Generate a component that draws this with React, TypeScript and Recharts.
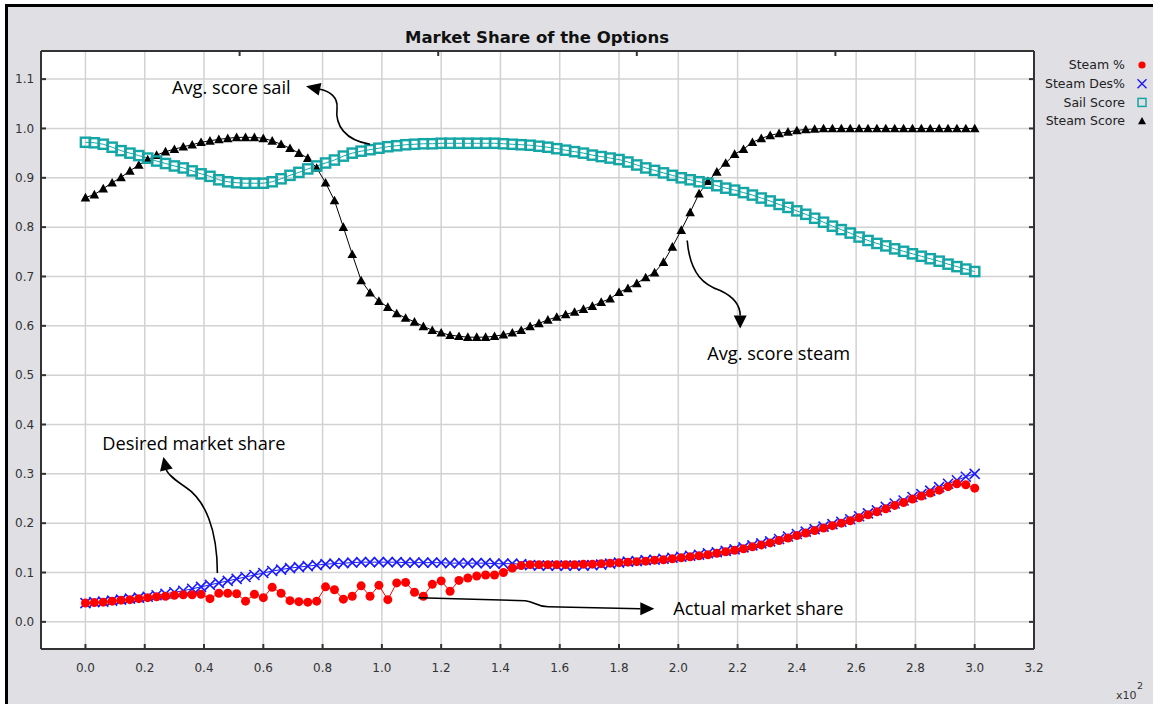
import React from "react";
import { ComposedChart, Line, XAxis, YAxis, CartesianGrid, ReferenceDot } from "recharts";

// time steps (x10^2 on the axis)
const X_VALUES = [
  0, 3, 6, 9, 12, 15, 18, 21, 24, 27, 30, 33, 36, 39, 42, 45, 48, 51, 54, 57,
  60, 63, 66, 69, 72, 75, 78, 81, 84, 87, 90, 93, 96, 99, 102, 105, 108, 111, 114, 117,
  120, 123, 126, 129, 132, 135, 138, 141, 144, 147, 150, 153, 156, 159, 162, 165, 168, 171, 174, 177,
  180, 183, 186, 189, 192, 195, 198, 201, 204, 207, 210, 213, 216, 219, 222, 225, 228, 231, 234, 237,
  240, 243, 246, 249, 252, 255, 258, 261, 264, 267, 270, 273, 276, 279, 282, 285, 288, 291, 294, 297,
  300,
];

const STEAM_PCT = [
  0.038, 0.039, 0.04, 0.042, 0.044, 0.045, 0.047, 0.049, 0.051, 0.052,
  0.054, 0.055, 0.055, 0.056, 0.047, 0.058, 0.058, 0.057, 0.042, 0.056,
  0.049, 0.07, 0.058, 0.043, 0.041, 0.04, 0.042, 0.071, 0.065, 0.046,
  0.052, 0.073, 0.052, 0.074, 0.045, 0.079, 0.08, 0.06, 0.052, 0.076,
  0.083, 0.062, 0.084, 0.089, 0.093, 0.095, 0.095, 0.1, 0.109, 0.114,
  0.116, 0.116, 0.116, 0.116, 0.116, 0.116, 0.117, 0.117, 0.118, 0.119,
  0.12, 0.121, 0.122, 0.123, 0.125, 0.126, 0.128, 0.13, 0.132, 0.134,
  0.136, 0.139, 0.142, 0.145, 0.148, 0.152, 0.156, 0.16, 0.165, 0.17,
  0.175, 0.18, 0.185, 0.19, 0.195, 0.2, 0.205, 0.211, 0.217, 0.223,
  0.229, 0.236, 0.242, 0.249, 0.255, 0.261, 0.267, 0.274, 0.28, 0.278,
  0.271,
];

const STEAM_DES = [
  0.038, 0.04, 0.041, 0.043, 0.045, 0.047, 0.049, 0.051, 0.054, 0.057,
  0.06, 0.063, 0.067, 0.071, 0.075, 0.079, 0.083, 0.087, 0.091, 0.095,
  0.099, 0.103, 0.106, 0.109, 0.111, 0.113, 0.115, 0.117, 0.118, 0.119,
  0.12, 0.121, 0.121, 0.121, 0.121, 0.121, 0.12, 0.12, 0.12, 0.12,
  0.12, 0.119, 0.119, 0.119, 0.119, 0.119, 0.118, 0.118, 0.118, 0.117,
  0.115, 0.114, 0.114, 0.114, 0.114, 0.114, 0.114, 0.115, 0.116, 0.118,
  0.12, 0.122, 0.123, 0.125, 0.126, 0.128, 0.13, 0.132, 0.134, 0.136,
  0.139, 0.141, 0.144, 0.147, 0.151, 0.155, 0.159, 0.163, 0.168, 0.173,
  0.178, 0.183, 0.188, 0.193, 0.198, 0.203, 0.208, 0.214, 0.22, 0.226,
  0.233, 0.24, 0.246, 0.253, 0.259, 0.266, 0.273, 0.28, 0.287, 0.294,
  0.3,
];

const SAIL_SCORE = [
  0.972, 0.971, 0.968, 0.962, 0.955, 0.95, 0.945, 0.94, 0.934, 0.929,
  0.924, 0.92, 0.914, 0.908, 0.903, 0.896, 0.892, 0.89, 0.889, 0.889,
  0.889, 0.892, 0.898, 0.905, 0.911, 0.918, 0.924, 0.93, 0.936, 0.944,
  0.95, 0.954, 0.957, 0.96, 0.963, 0.965, 0.967, 0.968, 0.969, 0.969,
  0.97, 0.97, 0.97, 0.97, 0.97, 0.97, 0.97, 0.969, 0.968, 0.967,
  0.966, 0.964, 0.962, 0.959, 0.956, 0.953, 0.95, 0.946, 0.943, 0.94,
  0.937, 0.932, 0.926, 0.92, 0.915, 0.91, 0.905, 0.9, 0.896, 0.892,
  0.889, 0.884, 0.879, 0.875, 0.87, 0.865, 0.859, 0.853, 0.846, 0.84,
  0.833, 0.826, 0.818, 0.81, 0.802, 0.795, 0.788, 0.78, 0.773, 0.767,
  0.762, 0.756, 0.751, 0.746, 0.741, 0.736, 0.731, 0.725, 0.72, 0.715,
  0.71,
];

const STEAM_SCORE = [
  0.86, 0.866, 0.878, 0.89, 0.901, 0.914, 0.926, 0.937, 0.946, 0.953,
  0.958, 0.963, 0.967, 0.972, 0.975, 0.978, 0.98, 0.982, 0.982, 0.982,
  0.98, 0.975, 0.968, 0.96, 0.95, 0.94, 0.92, 0.89, 0.854, 0.8,
  0.745, 0.692, 0.667, 0.65, 0.638, 0.625, 0.616, 0.608, 0.599, 0.591,
  0.586, 0.581, 0.579, 0.577, 0.577, 0.577, 0.579, 0.582, 0.586, 0.591,
  0.599, 0.605, 0.612, 0.618, 0.623, 0.628, 0.634, 0.64, 0.648, 0.655,
  0.668, 0.676, 0.686, 0.698, 0.708, 0.729, 0.76, 0.794, 0.83, 0.868,
  0.893, 0.912, 0.93, 0.948, 0.958, 0.972, 0.98, 0.986, 0.99, 0.993,
  0.996, 0.998, 0.999, 1, 1, 1, 1, 1, 1, 1,
  1, 1, 1, 1, 1, 1, 1, 1, 1, 1,
  1,
];

const X_TICKS = [0, 20, 40, 60, 80, 100, 120, 140, 160, 180, 200, 220, 240, 260, 280, 300, 320];
const Y_TICKS = [0, 0.1, 0.2, 0.3, 0.4, 0.5, 0.6, 0.7, 0.8, 0.9, 1.0, 1.1];

const SERIES = [
  { key: "steamScore", name: "Steam Score", color: "#000000", marker: "triangle" },
  { key: "sailScore", name: "Sail Score", color: "#14a6a6", marker: "square" },
  { key: "steamDes", name: "Steam Des%", color: "#1a1aff", marker: "x" },
  { key: "steamPct", name: "Steam %", color: "#ff0000", marker: "circle" },
];
const LEGEND_ORDER = ["steamPct", "steamDes", "sailScore", "steamScore"];

// annotation anchors (tail of each arrow) in data coordinates
const NOTES = [
  { id: "sail", x: 96, y: 0.968, text: "Avg. score sail" },
  { id: "steam", x: 203, y: 0.773, text: "Avg. score steam" },
  { id: "desired", x: 44.5, y: 0.099, text: "Desired market share" },
  { id: "actual", x: 112.3, y: 0.049, text: "Actual market share" },
];

const data = X_VALUES.map((x, i) => ({
  x,
  steamPct: STEAM_PCT[i],
  steamDes: STEAM_DES[i],
  sailScore: SAIL_SCORE[i],
  steamScore: STEAM_SCORE[i],
}));

const X_MIN = -15;
const X_MAX = 320;
const Y_MIN = -0.055;
const Y_MAX = 1.157;

const AXIS = "#333333";
const TICK_FONT = "'DejaVu Sans', Verdana, sans-serif";

function Marker({ kind, color, cx, cy, legend }: any) {
  if (kind === "circle") {
    return <circle cx={cx} cy={cy} r={legend ? 3.6 : 4.5} fill={color} />;
  }
  if (kind === "x") {
    const s = legend ? 4.5 : 5;
    return (
      <path
        d={`M${cx - s},${cy - s}L${cx + s},${cy + s}M${cx - s},${cy + s}L${cx + s},${cy - s}`}
        stroke={color}
        strokeWidth={legend ? 1.4 : 1.6}
        fill="none"
      />
    );
  }
  if (kind === "square") {
    const s = legend ? 4 : 4.6;
    return (
      <rect x={cx - s} y={cy - s} width={s * 2} height={s * 2} fill="none" stroke={color} strokeWidth={legend ? 1.5 : 2.4} />
    );
  }
  const s = legend ? 4 : 4.8;
  return <path d={`M${cx},${cy - s}L${cx + s},${cy + s * 0.8}L${cx - s},${cy + s * 0.8}Z`} fill={color} />;
}

const dotFor = (kind: string, color: string) => (props: any) => {
  const { cx, cy, index } = props;
  if (cx == null || cy == null) return <g key={`d${index}`} />;
  return <Marker key={`d${index}`} kind={kind} color={color} cx={cx} cy={cy} />;
};

function BottomTick({ x, y, payload }: any) {
  return (
    <g>
      <line x1={x} y1={y} x2={x} y2={y - 5} stroke={AXIS} strokeWidth={2} />
      <text x={x} y={y + 23} textAnchor="middle" fontFamily={TICK_FONT} fontSize={12} fill="#333">
        {(payload.value / 100).toFixed(1)}
      </text>
    </g>
  );
}

function LeftTick({ x, y, payload }: any) {
  return (
    <g>
      <line x1={x} y1={y} x2={x + 5} y2={y} stroke={AXIS} strokeWidth={2} />
      <text x={x - 26} y={y} dy="0.35em" textAnchor="start" fontFamily={TICK_FONT} fontSize={12} fill="#333">
        {payload.value.toFixed(1)}
      </text>
    </g>
  );
}

function TopTick({ x, y }: any) {
  return <line x1={x} y1={y} x2={x} y2={y + 5} stroke={AXIS} strokeWidth={2} />;
}

function RightTick({ x, y }: any) {
  return <line x1={x} y1={y} x2={x - 5} y2={y} stroke={AXIS} strokeWidth={2} />;
}

// arrow shape for each note, relative to the anchor
const NOTE_GEOM: Record<string, { path: string; end: [number, number]; tip: [number, number]; label: [number, number] }> = {
  sail: { path: "M0,0 C-25,-4 -35,-19 -33,-36 C-32,-47 -40,-53 -50,-55", end: [-50, -55], tip: [-64, -58], label: [-198, -50] },
  steam: { path: "M0,0 C3,35 18,45 33,50 C48,57 53,65 53,75", end: [53, 75], tip: [53, 88], label: [20, 120] },
  desired: { path: "M0,0 C0,-43 -12,-73 -32,-86 C-42,-93 -49,-98 -51,-103", end: [-51, -103], tip: [-54, -116], label: [-115, -123] },
  actual: { path: "M0,0 L107,3 C117,4 117,9 130,9 L222,11", end: [222, 11], tip: [236, 11], label: [255, 17] },
};

function Note({ cx, cy, note }: any) {
  if (cx == null || cy == null) return null;
  const g = NOTE_GEOM[note.id];
  const [ex, ey] = g.end;
  const [tx, ty] = g.tip;
  const len = Math.hypot(tx - ex, ty - ey) || 1;
  const ux = (tx - ex) / len;
  const uy = (ty - ey) / len;
  const w = 6.5;
  const p1 = [ex - uy * w, ey + ux * w];
  const p2 = [ex + uy * w, ey - ux * w];
  return (
    <g transform={`translate(${cx},${cy})`}>
      <path d={g.path} fill="none" stroke="#000" strokeWidth={1.6} />
      <path d={`M${tx},${ty}L${p1[0]},${p1[1]}L${p2[0]},${p2[1]}Z`} fill="#000" />
      <text x={g.label[0]} y={g.label[1]} fontFamily="'Open Sans', Lato, sans-serif" fontSize={18.2} fill="#000">
        {note.text}
      </text>
    </g>
  );
}

export default function App() {
  const legendItems = LEGEND_ORDER.map((k) => SERIES.find((s) => s.key === k)!);
  return (
    <div style={{ position: "absolute", left: 0, top: 0, width: 1153, height: 704, background: "#ffffff", overflow: "hidden" }}>
      <div
        style={{
          position: "absolute",
          left: 5,
          top: 4,
          width: 1148,
          height: 700,
          boxSizing: "border-box",
          background: "#dfdfe4",
          borderLeft: "3px solid #000",
          borderTop: "3px solid #000",
        }}
      />
      <div style={{ position: "absolute", left: 0, top: 0 }}>
        <ComposedChart width={1153} height={704} data={data} margin={{ top: 50, right: 118, bottom: 54, left: 40 }}>
          <CartesianGrid stroke="#d2d2d2" strokeWidth={1.5} fill="#ffffff" />
          <XAxis
            dataKey="x"
            type="number"
            domain={[X_MIN, X_MAX]}
            ticks={X_TICKS}
            allowDataOverflow
            interval={0}
            height={1}
            tickSize={0}
            tickMargin={0}
            tickLine={false}
            axisLine={{ stroke: AXIS, strokeWidth: 2 }}
            tick={(p: any) => <BottomTick {...p} />}
          />
          <XAxis
            xAxisId="top"
            orientation="top"
            type="number"
            domain={[X_MIN, X_MAX]}
            ticks={X_TICKS}
            allowDataOverflow
            interval={0}
            height={1}
            tickSize={0}
            tickMargin={0}
            tickLine={false}
            axisLine={{ stroke: AXIS, strokeWidth: 2 }}
            tick={(p: any) => <TopTick {...p} />}
          />
          <YAxis
            type="number"
            domain={[Y_MIN, Y_MAX]}
            ticks={Y_TICKS}
            allowDataOverflow
            interval={0}
            width={1}
            tickSize={0}
            tickMargin={0}
            tickLine={false}
            axisLine={{ stroke: AXIS, strokeWidth: 2 }}
            tick={(p: any) => <LeftTick {...p} />}
          />
          <YAxis
            yAxisId="right"
            orientation="right"
            type="number"
            domain={[Y_MIN, Y_MAX]}
            ticks={Y_TICKS}
            allowDataOverflow
            interval={0}
            width={1}
            tickSize={0}
            tickMargin={0}
            tickLine={false}
            axisLine={{ stroke: AXIS, strokeWidth: 2 }}
            tick={(p: any) => <RightTick {...p} />}
          />
          {SERIES.map((s) => (
            <Line
              key={s.key}
              dataKey={s.key}
              name={s.name}
              type="linear"
              stroke={s.color}
              strokeWidth={1}
              dot={dotFor(s.marker, s.color)}
              activeDot={false}
              isAnimationActive={false}
            />
          ))}
          {NOTES.map((n) => (
            <ReferenceDot
              key={n.id}
              x={n.x}
              y={n.y}
              r={0}
              ifOverflow="visible"
              shape={(p: any) => <Note {...p} note={n} />}
            />
          ))}
        </ComposedChart>
      </div>
      <svg width={1153} height={704} style={{ position: "absolute", left: 0, top: 0, pointerEvents: "none" }}>
        <text x={537} y={43} textAnchor="middle" fontFamily={TICK_FONT} fontWeight="bold" fontSize={16.5} fill="#111">
          Market Share of the Options
        </text>
        {legendItems.map((s, i) => {
          const cy = 65 + i * 18.7;
          return (
            <g key={s.key}>
              <text x={1125} y={cy} dy="0.35em" textAnchor="end" fontFamily={TICK_FONT} fontSize={12.5} fill="#222">
                {s.name}
              </text>
              <Marker kind={s.marker} color={s.color} cx={1142} cy={cy} legend />
            </g>
          );
        })}
        <text x={1116} y={699} fontFamily={TICK_FONT} fontSize={11} fill="#333">
          x10
        </text>
        <text x={1137} y={689} fontFamily={TICK_FONT} fontSize={9.5} fill="#333">
          2
        </text>
      </svg>
    </div>
  );
}
